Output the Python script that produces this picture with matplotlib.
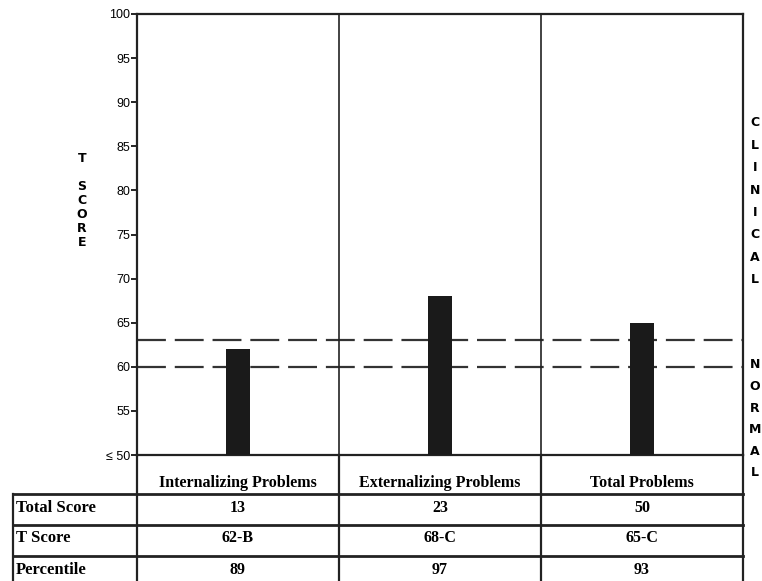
import numpy as np
import matplotlib.pyplot as plt

# profile data
scales = ["Internalizing Problems", "Externalizing Problems", "Total Problems"]
t_scores = [62, 68, 65]
row_names = ["Total Score", "T Score", "Percentile"]
total_scores = ["13", "23", "50"]
t_labels = ["62-B", "68-C", "65-C"]
percentiles = ["89", "97", "93"]
y_ticks = [50, 55, 60, 65, 70, 75, 80, 85, 90, 95, 100]
y_tick_labels = ["\u2264 50", "55", "60", "65", "70", "75", "80", "85", "90", "95", "100"]
cutoffs = [60, 63]  # borderline band

W, H = 762, 581
NARROW = ["Liberation Sans Narrow", "Liberation Sans", "DejaVu Sans"]
SERIF = ["Liberation Serif", "DejaVu Serif"]
LW = 1.6

fig = plt.figure(figsize=(W / 100, H / 100), dpi=100)

# background axes in pixel coords, used for the table and side text
bg = fig.add_axes([0, 0, 1, 1])
bg.set_xlim(0, W)
bg.set_ylim(H, 0)
bg.axis("off")

left, right, top, base = 137, 743, 14, 455
ax = fig.add_axes([left / W, 1 - base / H, (right - left) / W, (base - top) / H])
ax.set_zorder(2)
ax.patch.set_alpha(0)

x = np.arange(len(scales))
ax.bar(x, [t - y_ticks[0] for t in t_scores], bottom=y_ticks[0], width=0.115,
       color="#1a1a1a", zorder=3)
for c in cutoffs:
   ax.axhline(c, color="#333333", lw=1.6, dashes=(13, 4), zorder=2)
for i in range(1, len(scales)):
   ax.axvline(i - 0.5, color="#222222", lw=1.2)

ax.set_xlim(-0.5, len(scales) - 0.5)
ax.set_ylim(y_ticks[0], y_ticks[-1])
ax.set_xticks([])
ax.set_yticks(y_ticks)
ax.set_yticklabels(y_tick_labels, family=NARROW, fontsize=9)
ax.tick_params(axis="y", direction="out", length=4, width=1.2, pad=1)
for s in ax.spines.values():
   s.set_linewidth(LW)
   s.set_color("#222222")

# table under the plot
edges = np.linspace(left, right, len(scales) + 1)
centers = (edges[:-1] + edges[1:]) / 2
row_lines = [494, 525, 556, 587]
table_left = 13

for xe in edges:
   bg.plot([xe, xe], [base, H + 10], color="#222222", lw=LW)
bg.plot([table_left, table_left], [row_lines[0], H + 10], color="#222222", lw=LW)
for yl in row_lines:
   bg.plot([table_left, right], [yl, yl], color="#222222", lw=2.0)

for cx, name in zip(centers, scales):
   bg.text(cx, 483, name, ha="center", va="center", family=SERIF,
           fontweight="bold", fontsize=11.5)

rows = [total_scores, t_labels, percentiles]
for r, (name, vals) in enumerate(zip(row_names, rows)):
   yc = (row_lines[r] + row_lines[r + 1]) / 2 - 2
   bg.text(table_left + 3, yc, name, ha="left", va="center", family=SERIF,
           fontweight="bold", fontsize=12)
   for cx, v in zip(centers, vals):
      bg.text(cx, yc, v, ha="center", va="center", family=SERIF,
              fontweight="bold", fontsize=11.5)

# stacked letters
bg.text(82, 158, "T", ha="center", va="center", fontsize=9, fontweight="bold")
for k, ch in enumerate("SCORE"):
   bg.text(82, 186 + 14 * k, ch, ha="center", va="center", fontsize=9, fontweight="bold")
for k, ch in enumerate("CLINICAL"):
   bg.text(755, 123 + 22.4 * k, ch, ha="center", va="center", fontsize=9, fontweight="bold")
for k, ch in enumerate("NORMAL"):
   bg.text(755, 365 + 21.6 * k, ch, ha="center", va="center", fontsize=9, fontweight="bold")

plt.savefig("out.png", dpi=100)
